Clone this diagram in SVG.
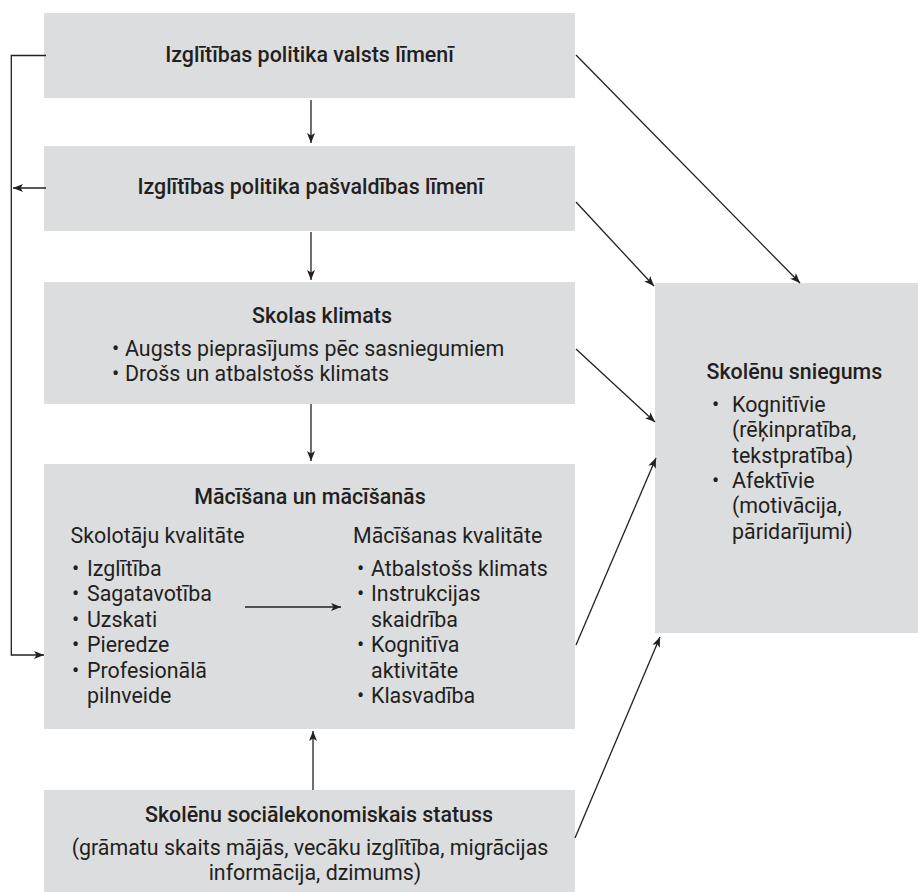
<svg xmlns="http://www.w3.org/2000/svg" width="918" height="892" viewBox="0 0 918 892">
<style>
.box{fill:#dcdddf}
.t{font-family:Roboto,"Liberation Sans",sans-serif;font-size:21.4px;fill:#231f20;font-weight:500}
.b{font-family:Roboto,"Liberation Sans",sans-serif;font-size:21.4px;fill:#231f20}
.c{text-anchor:middle}
.ln{fill:none;stroke:#231f20;stroke-width:1.3;marker-end:url(#ah)}
</style>
<defs>
<marker id="ah" viewBox="0 0 10 8" markerWidth="10" markerHeight="8" refX="10" refY="4" orient="auto" markerUnits="userSpaceOnUse">
<path d="M0,0 L10,4 L0,8 L2.5,4 z" fill="#231f20"/>
</marker>
</defs>
<rect width="918" height="892" fill="#fff"/>
<g id="n1">
<rect class="box" x="44" y="13" width="531" height="85"/>
<text class="t c" x="309.5" y="62">Izglītības politika valsts līmenī</text>
</g>
<g id="n2">
<rect class="box" x="44" y="146" width="531" height="85"/>
<text class="t c" x="310.5" y="194">Izglītības politika pašvaldības līmenī</text>
</g>
<g id="n3">
<rect class="box" x="44" y="282" width="531" height="122"/>
<text class="t" x="252" y="323">Skolas klimats</text>
<text class="b" y="356"><tspan x="112">•</tspan><tspan x="125">Augsts pieprasījums pēc sasniegumiem</tspan></text>
<text class="b" y="381"><tspan x="112">•</tspan><tspan x="125">Drošs un atbalstošs klimats</tspan></text>
</g>
<g id="n4">
<rect class="box" x="44" y="464" width="531" height="265"/>
<text class="t c" x="310" y="504">Mācīšana un mācīšanās</text>
<text class="b" x="70.5" y="543">Skolotāju kvalitāte</text>
<text class="b" y="576"><tspan x="72">•</tspan><tspan x="87">Izglītība</tspan></text>
<text class="b" y="601"><tspan x="72">•</tspan><tspan x="87">Sagatavotība</tspan></text>
<text class="b" y="626.5"><tspan x="72">•</tspan><tspan x="87">Uzskati</tspan></text>
<text class="b" y="652"><tspan x="72">•</tspan><tspan x="87">Pieredze</tspan></text>
<text class="b" y="677.5"><tspan x="72">•</tspan><tspan x="87">Profesionālā</tspan></text>
<text class="b" x="87" y="703">pilnveide</text>
<text class="b" x="353" y="543">Mācīšanas kvalitāte</text>
<text class="b" y="576"><tspan x="357">•</tspan><tspan x="371">Atbalstošs klimats</tspan></text>
<text class="b" y="601"><tspan x="357">•</tspan><tspan x="371">Instrukcijas</tspan></text>
<text class="b" x="371" y="626.5">skaidrība</text>
<text class="b" y="652"><tspan x="357">•</tspan><tspan x="371">Kognitīva</tspan></text>
<text class="b" x="371" y="677.5">aktivitāte</text>
<text class="b" y="703"><tspan x="357">•</tspan><tspan x="371">Klasvadība</tspan></text>
</g>
<g id="n5">
<rect class="box" x="44" y="790" width="531" height="102"/>
<text class="t c" x="319" y="822">Skolēnu sociālekonomiskais statuss</text>
<text class="b c" x="310" y="855">(grāmatu skaits mājās, vecāku izglītība, migrācijas</text>
<text class="b c" x="315" y="880">informācija, dzimums)</text>
</g>
<g id="n6">
<rect class="box" x="655" y="283" width="263" height="350"/>
<text class="t" x="706.5" y="379">Skolēnu sniegums</text>
<text class="b" y="411.5"><tspan x="712">•</tspan><tspan x="732">Kognitīvie</tspan></text>
<text class="b" x="732" y="437">(rēķinpratība,</text>
<text class="b" x="732" y="462.5">tekstpratība)</text>
<text class="b" y="488"><tspan x="712">•</tspan><tspan x="732">Afektīvie</tspan></text>
<text class="b" x="732" y="513">(motivācija,</text>
<text class="b" x="732" y="538.5">pāridarījumi)</text>
</g>
<g id="connectors">
<path class="ln" d="M46,55.5 H11.3 V655 H44"/>
<path class="ln" d="M46,188 H13"/>
<path class="ln" d="M311,100 V143"/>
<path class="ln" d="M311,232 V280"/>
<path class="ln" d="M311,404 V461"/>
<path class="ln" d="M313,790 V731"/>
<path class="ln" d="M245,607 H341"/>
<path class="ln" d="M576,55 L800,283"/>
<path class="ln" d="M576,202 L654,286"/>
<path class="ln" d="M576,349 L655,422"/>
<path class="ln" d="M576,645 L656,458"/>
<path class="ln" d="M575,838 L660,637"/>
</g>
</svg>
